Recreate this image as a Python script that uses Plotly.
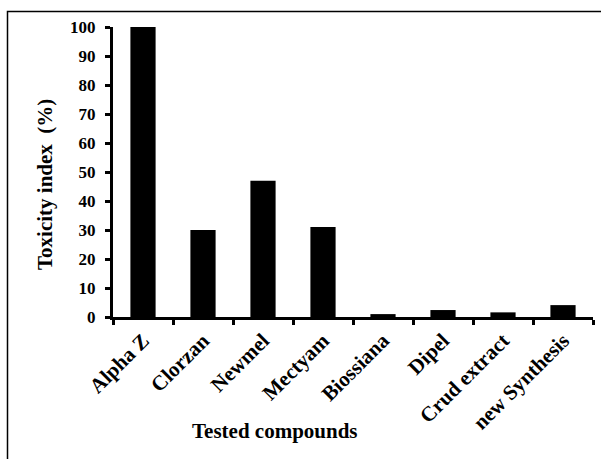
import plotly.graph_objects as go

categories = ["Alpha Z", "Clorzan", "Newmel", "Mectyam", "Biossiana", "Dipel", "Crud extract", "new Synthesis"]
toxicity = [100, 30, 47, 31, 1, 2.4, 1.6, 4.1]
y_ticks = [0, 10, 20, 30, 40, 50, 60, 70, 80, 90, 100]

font = dict(family="Liberation Serif, Times New Roman, serif", color="black", weight="bold")

fig = go.Figure(go.Bar(x=categories, y=toxicity, marker=dict(color="black", line=dict(width=0)), width=0.42))

W, H = 601, 459
L, R, T, B = 113, 8, 27, 142
pw, ph = W - L - R, H - T - B

def px(x):
    return (x - L) / pw

def py(y):
    return (H - B - y) / ph

fig.update_layout(
    width=W, height=H,
    margin=dict(l=L, r=R, t=T, b=B, autoexpand=False),
    plot_bgcolor="white", paper_bgcolor="white",
    showlegend=False,
    font=dict(size=18, **font),
    xaxis=dict(
        type="category", tickangle=-45, tickson="boundaries",
        ticks="outside", ticklen=5, tickwidth=3, tickcolor="black",
        showline=True, linewidth=3, linecolor="black",
        showgrid=False, zeroline=False,
        tickfont=dict(size=21, **font),
        automargin=False,
    ),
    yaxis=dict(
        range=[0, 100], tickvals=y_ticks,
        ticks="outside", ticklen=5, tickwidth=3, tickcolor="black",
        showline=True, linewidth=3, linecolor="black",
        showgrid=False, zeroline=False,
        tickfont=dict(size=17, **font),
        ticklabelstandoff=6,
        automargin=False,
    ),
    shapes=[dict(type="rect", xref="paper", yref="paper",
                 x0=px(7.5), x1=px(700), y0=py(600), y1=py(11.5),
                 line=dict(color="black", width=1.5), layer="above")],
    annotations=[
        dict(text="Tested compounds", xref="paper", yref="paper",
             x=px(275), y=py(431), showarrow=False,
             font=dict(size=21, **font), xanchor="center", yanchor="middle"),
        dict(text="Toxicity index\u00a0\u00a0(%)", xref="paper", yref="paper",
             x=px(45), y=py(185), showarrow=False, textangle=-90,
             font=dict(size=21, **font), xanchor="center", yanchor="middle"),
    ],
)

fig.write_html("out.html", config={"displayModeBar": False},
               post_script="document.body.style.margin='0px';")
